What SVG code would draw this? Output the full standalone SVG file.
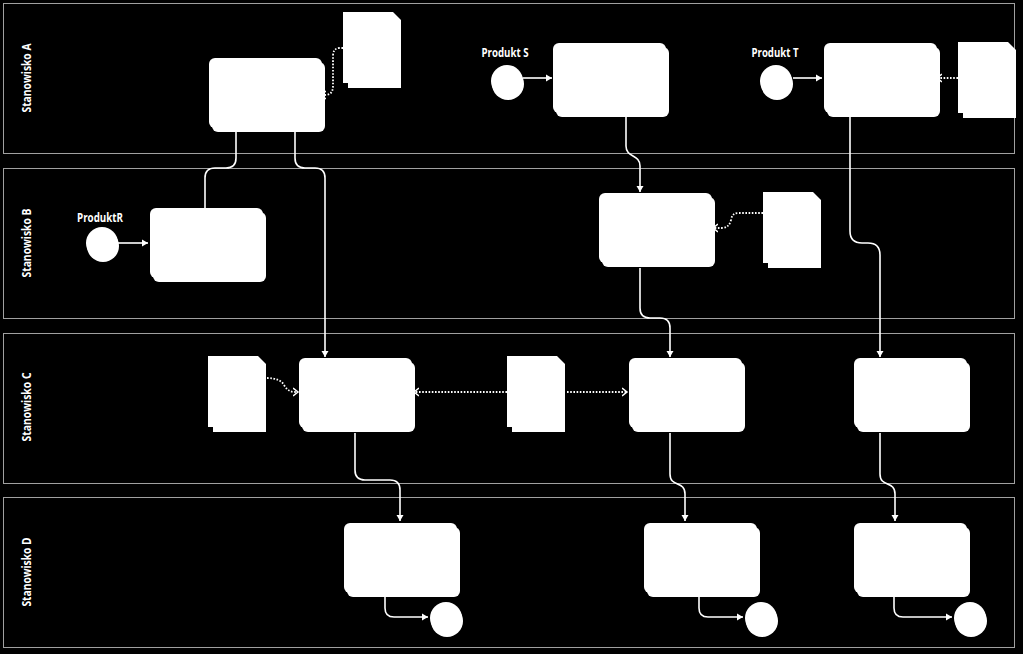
<svg xmlns="http://www.w3.org/2000/svg" width="1023" height="654" viewBox="0 0 1023 654">
<style>
.lane{fill:none;stroke:#a0a0a0;stroke-width:1}
.lbl{font-family:"Open Sans","Liberation Sans",sans-serif;font-weight:bold;font-size:12px;fill:#fff}
.w{fill:#fff}
.flow{fill:none;stroke:#fff;stroke-width:1.6}
.assoc{fill:none;stroke:#fff;stroke-width:1.8;stroke-dasharray:1.6 1.6}
</style>
<defs>
<marker id="arr" markerUnits="userSpaceOnUse" markerWidth="8" markerHeight="8" refX="6" refY="4" orient="auto">
<path d="M0,0.5 L6,4 L0,7.5 Z" fill="#fff"/>
</marker>
<marker id="chev" markerUnits="userSpaceOnUse" markerWidth="8" markerHeight="10" refX="5" refY="5" orient="auto">
<path d="M0,1 L5,5 L0,9" fill="none" stroke="#fff" stroke-width="1.5"/>
</marker>
<g id="task">
<rect x="3" y="4" width="113" height="70" rx="6" class="w"/>
<rect x="0" y="0" width="113" height="70" rx="6" class="w"/>
</g>
<g id="doc">
<rect x="5" y="10" width="53" height="66" class="w"/>
<path d="M0,0 H50 L58,8 V71 H0 Z" class="w"/>
</g>
<g id="ev">
<circle cx="1" cy="3" r="16" class="w"/>
<circle cx="0" cy="0" r="16" class="w"/>
</g>
</defs>
<rect x="0" y="0" width="1023" height="654" fill="#000"/>

<g id="lanes">
<rect class="lane" x="3.5" y="3.5" width="1011" height="150"/>
<rect class="lane" x="3.5" y="168.5" width="1011" height="150"/>
<rect class="lane" x="3.5" y="333.5" width="1011" height="150"/>
<rect class="lane" x="3.5" y="497.5" width="1011" height="150"/>
<text class="lbl" transform="translate(31,78) rotate(-90)" text-anchor="middle" textLength="69" lengthAdjust="spacingAndGlyphs">Stanowisko A</text>
<text class="lbl" transform="translate(31,243) rotate(-90)" text-anchor="middle" textLength="69" lengthAdjust="spacingAndGlyphs">Stanowisko B</text>
<text class="lbl" transform="translate(31,407) rotate(-90)" text-anchor="middle" textLength="69" lengthAdjust="spacingAndGlyphs">Stanowisko C</text>
<text class="lbl" transform="translate(31,572) rotate(-90)" text-anchor="middle" textLength="69" lengthAdjust="spacingAndGlyphs">Stanowisko D</text>
</g>

<g id="connectors">
<path class="flow" d="M236,132 V158 Q236,168 226,168 H215 Q205,168 205,178 V208"/>
<path class="flow" marker-end="url(#arr)" d="M295,132 V158 Q295,168 305,168 H315 Q325,168 325,178 V357"/>
<path class="flow" marker-end="url(#arr)" d="M118,243 H148"/>
<path class="flow" marker-end="url(#arr)" d="M523,78 H552"/>
<path class="flow" marker-end="url(#arr)" d="M793,78 H822"/>
<path class="flow" marker-end="url(#arr)" d="M626,117 V146 C626,158 640,154 640,166 V192"/>
<path class="flow" marker-end="url(#arr)" d="M640,268 V308 Q640,318 650,318 H660 Q670,318 670,328 V357"/>
<path class="flow" marker-end="url(#arr)" d="M850,117 V231 Q850,243 862,243 H868 Q880,243 880,255 V357"/>
<path class="flow" marker-end="url(#arr)" d="M355,433 V470 Q355,480 365,480 H390 Q400,480 400,490 V521"/>
<path class="flow" marker-end="url(#arr)" d="M670,433 V474 C670,488 685,480 685,494 V521"/>
<path class="flow" marker-end="url(#arr)" d="M880,433 V474 C880,488 895,480 895,494 V521"/>
<path class="flow" marker-end="url(#arr)" d="M385,597 V608 Q385,617 394,617 H428"/>
<path class="flow" marker-end="url(#arr)" d="M699,597 V608 Q699,617 708,617 H743"/>
<path class="flow" marker-end="url(#arr)" d="M894,597 V608 Q894,617 903,617 H952"/>
<path class="assoc" marker-end="url(#chev)" d="M343,48 H340 Q333,48 333,56 V86 Q333,95 325,95 H321"/>
<path class="assoc" marker-end="url(#chev)" d="M958,78 H937"/>
<path class="assoc" marker-end="url(#chev)" d="M763,213 H738 Q732,213 731,220 Q729,228 722,228 H713"/>
<path class="assoc" marker-end="url(#chev)" d="M267,378 Q280,378 284,385 Q288,392 295,392 H298"/>
<path class="assoc" marker-end="url(#chev)" d="M507,392 H414"/>
<path class="assoc" marker-end="url(#chev)" d="M567,392 H627"/>
</g>

<g id="nodeA1"><use href="#task" x="209" y="58"/></g>
<g id="docA1"><use href="#doc" x="343" y="12"/></g>
<g id="startS"><use href="#ev" x="507" y="81"/><text class="lbl" x="505" y="57" text-anchor="middle" textLength="47" lengthAdjust="spacingAndGlyphs">Produkt S</text></g>
<g id="nodeS"><use href="#task" x="553" y="43"/></g>
<g id="startT"><use href="#ev" x="776" y="81"/><text class="lbl" x="775" y="57" text-anchor="middle" textLength="47" lengthAdjust="spacingAndGlyphs">Produkt T</text></g>
<g id="nodeT"><use href="#task" x="824" y="43"/></g>
<g id="docT"><use href="#doc" x="958" y="42"/></g>
<g id="startR"><use href="#ev" x="102" y="243"/><text class="lbl" x="100" y="222" text-anchor="middle" textLength="46" lengthAdjust="spacingAndGlyphs">ProduktR</text></g>
<g id="nodeB1"><use href="#task" x="150" y="208"/></g>
<g id="nodeB2"><use href="#task" x="599" y="193"/></g>
<g id="docB"><use href="#doc" x="763" y="192"/></g>
<g id="docC1"><use href="#doc" x="208" y="356"/></g>
<g id="nodeC1"><use href="#task" x="299" y="358"/></g>
<g id="docC2"><use href="#doc" x="507" y="356"/></g>
<g id="nodeC2"><use href="#task" x="629" y="358"/></g>
<g id="nodeC3"><use href="#task" x="854" y="358"/></g>
<g id="nodeD1"><use href="#task" x="344" y="523"/></g>
<g id="endD1"><use href="#ev" x="446" y="618"/></g>
<g id="nodeD2"><use href="#task" x="644" y="523"/></g>
<g id="endD2"><use href="#ev" x="761" y="618"/></g>
<g id="nodeD3"><use href="#task" x="854" y="523"/></g>
<g id="endD3"><use href="#ev" x="970" y="618"/></g>
</svg>
